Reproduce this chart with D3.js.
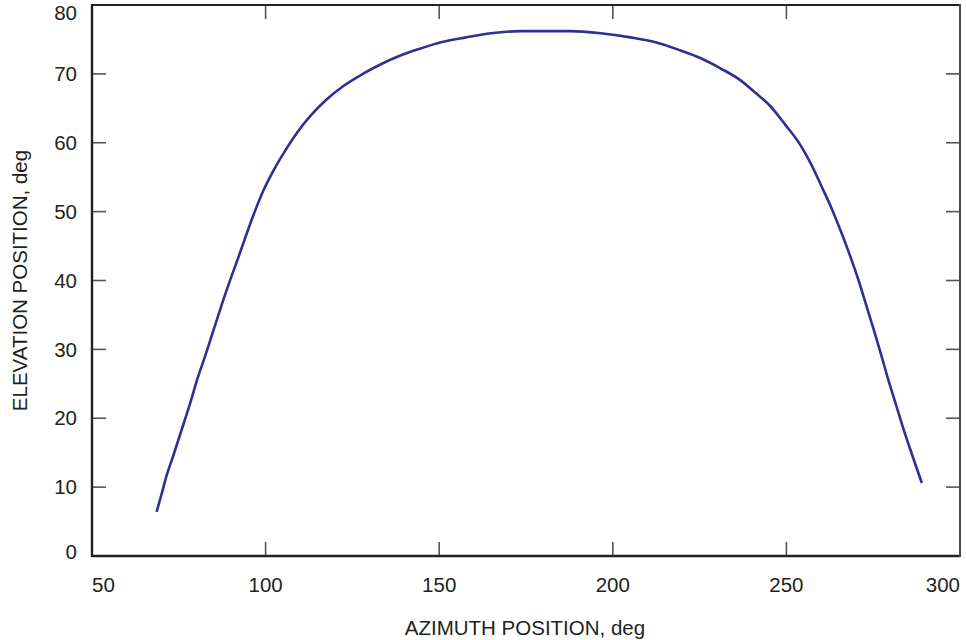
<!DOCTYPE html>
<html>
<head>
<meta charset="utf-8">
<script src="https://cdn.jsdelivr.net/npm/d3@7"></script>
<style>
  html, body { margin: 0; padding: 0; background: #fff; }
  svg text { font-family: "Liberation Sans", Arial, Helvetica, sans-serif; fill: #231f20; }
</style>
</head>
<body>
<svg id="chart" width="966" height="640"></svg>
<script>
// Data
const azimuth = [68.6, 70.0, 71.5, 73.5, 75.8, 78.1, 80.4, 82.7, 85.0, 87.3, 89.6, 91.9, 94.2, 96.5, 99.4,
  102.3, 105.7, 109.1, 113.1, 117.4, 122.3, 128.0, 133.2, 139.0, 144.7, 150.5, 157.7, 164.9, 173.5, 187.8,
  196.5, 205.1, 212.3, 219.5, 225.2, 231.0, 236.7, 241.0, 245.4, 249.7, 254.0, 257.0, 260.0, 263.0, 265.8,
  268.4, 270.8, 273.0, 275.2, 277.3, 279.4, 281.6, 283.8, 286.2, 289.0];
const elevation = [6.4, 8.9, 11.7, 14.7, 18.3, 21.9, 25.8, 29.2, 32.8, 36.4, 39.8, 43.0, 46.3, 49.5, 53.1,
  56.0, 58.9, 61.5, 64.0, 66.2, 68.2, 70.0, 71.4, 72.7, 73.7, 74.6, 75.3, 75.9, 76.2, 76.2,
  75.9, 75.3, 74.6, 73.4, 72.3, 70.8, 69.1, 67.3, 65.3, 62.6, 59.7, 57.0, 53.8, 50.5, 47.0,
  43.5, 40.0, 36.4, 32.8, 29.2, 25.5, 21.9, 18.3, 14.7, 10.6];
const xTicks = [50, 100, 150, 200, 250, 300];
const yTicks = [0, 10, 20, 30, 40, 50, 60, 70, 80];
const xTitle = "AZIMUTH POSITION, deg";
const yTitle = "ELEVATION POSITION, deg";

const svg = d3.select("#chart");
const x = d3.scaleLinear().domain([50, 300]).range([92, 960]);
const y = d3.scaleLinear().domain([0, 80]).range([556, 5]);
const tickLen = 14;
const frameColor = "#231f20";
const tickColor = "#555";

// inner ticks (bottom, top, left, right)
const innerX = xTicks.filter(d => d > 50 && d < 300);
const innerY = yTicks.filter(d => d > 0 && d < 80);
const tg = svg.append("g").attr("stroke", tickColor).attr("stroke-width", 1.6);
innerX.forEach(d => {
  tg.append("line").attr("x1", x(d)).attr("x2", x(d)).attr("y1", y(0)).attr("y2", y(0) - tickLen);
  tg.append("line").attr("x1", x(d)).attr("x2", x(d)).attr("y1", y(80)).attr("y2", y(80) + tickLen);
});
innerY.forEach(d => {
  tg.append("line").attr("y1", y(d)).attr("y2", y(d)).attr("x1", x(50)).attr("x2", x(50) + tickLen);
  tg.append("line").attr("y1", y(d)).attr("y2", y(d)).attr("x1", x(300)).attr("x2", x(300) - tickLen);
});

// frame
svg.append("path")
  .attr("d", `M${x(50)},${y(80)}H${x(300)}`)
  .attr("stroke", frameColor).attr("stroke-width", 2.2).attr("fill", "none");
svg.append("path")
  .attr("d", `M${x(50)},${y(0)}H${x(300)}`)
  .attr("stroke", frameColor).attr("stroke-width", 2.4).attr("fill", "none");
svg.append("path")
  .attr("d", `M${x(50)},${y(80) - 1}V${y(0) + 1}`)
  .attr("stroke", frameColor).attr("stroke-width", 2.4).attr("fill", "none");
svg.append("path")
  .attr("d", `M${x(300)},${y(80) - 1}V${y(0) + 1}`)
  .attr("stroke", "#4a4a4a").attr("stroke-width", 2).attr("fill", "none");

// tick labels
const fs = 20.5;
svg.append("g").selectAll("text").data(xTicks).join("text")
  .attr("x", d => x(d))
  .attr("y", 592)
  .attr("font-size", fs)
  .attr("text-anchor", d => d === 50 ? "start" : d === 300 ? "end" : "middle")
  .text(d => d);
svg.append("g").selectAll("text").data(yTicks).join("text")
  .attr("x", 77)
  .attr("y", d => d === 80 ? y(d) + 8 : d === 0 ? y(d) - 4 : y(d))
  .attr("dy", "0.35em")
  .attr("font-size", fs)
  .attr("text-anchor", "end")
  .text(d => d);

// axis titles
svg.append("text")
  .attr("x", (x(50) + x(300)) / 2 - 1)
  .attr("y", 635)
  .attr("font-size", fs)
  .attr("text-anchor", "middle")
  .text(xTitle);
svg.append("text")
  .attr("transform", `translate(27,${(y(0) + y(80)) / 2}) rotate(-90)`)
  .attr("font-size", fs)
  .attr("text-anchor", "middle")
  .text(yTitle);

// data line
const pts = azimuth.map((a, i) => [a, elevation[i]]);
svg.append("path")
  .datum(pts)
  .attr("fill", "none")
  .attr("stroke", "#2e3192")
  .attr("stroke-width", 2.6)
  .attr("stroke-linejoin", "round")
  .attr("d", d3.line().x(d => x(d[0])).y(d => y(d[1])).curve(d3.curveMonotoneX));
</script>
</body>
</html>
